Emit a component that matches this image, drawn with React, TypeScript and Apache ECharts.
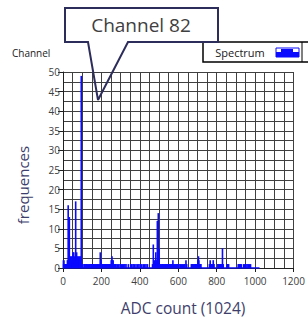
import React, { useEffect, useRef } from "react";
import * as echarts from "echarts";

const X_MIN = 0;
const X_MAX = 1200;
const X_STEP = 200;
const Y_MIN = 0;
const Y_MAX = 50;
const Y_STEP = 5;
const CHANNEL_COUNT = 1024;

// non-empty channels of the spectrum and their counts
const channels = [
  0, 1, 3, 5, 7, 9, 11, 13, 15, 17, 19, 21, 23, 25, 27, 28, 30, 32, 33, 34, 36, 38, 40, 42, 44, 46, 48, 50,
  52, 54, 56, 58, 60, 62, 64, 66, 67, 69, 71, 73, 75, 77, 79, 81, 83, 85, 87, 89, 91, 93, 95, 96, 98, 100, 103,
  110, 114, 119, 124, 128, 133, 137, 141, 146, 150, 153, 157, 161, 165, 170, 174, 178, 182, 186, 190,
  194, 196, 198, 200, 203, 206, 209, 212, 215, 218, 221, 224, 227, 230, 233, 236, 239, 242, 245, 248, 251,
  253, 255, 258, 261, 264, 267, 270, 273, 276,
  283, 290, 297, 304, 310, 316, 322, 328, 340, 352, 358, 365, 372, 380, 388, 395, 402, 410, 418, 425, 432, 440,
  466, 470, 473, 476, 479, 483, 486, 488, 491, 494, 496, 498, 500, 503, 506,
  512, 516, 520, 524, 528, 532, 536, 540, 544, 548, 552, 556, 560, 564, 568, 572, 576, 580,
  586, 590, 594, 598, 604, 610, 616, 622, 628, 634, 640, 644,
  668, 672, 676, 680, 684, 688, 692, 696, 700, 703, 705, 707, 710, 714, 718,
  762, 766, 770, 774, 778, 782, 786,
  806, 810, 814, 818, 822, 826, 830, 834,
  854, 858, 862,
  912, 916, 920, 924, 928,
  940, 946, 952, 958, 964, 970, 976,
];
const counts = [
  2, 2, 1, 2, 1, 1, 1, 1, 1, 1, 1, 1, 2, 1, 16, 2, 1, 2, 13, 3, 2, 1, 3, 1, 2, 3, 2, 1,
  4, 2, 4, 2, 3, 2, 1, 17, 3, 2, 4, 2, 3, 2, 2, 3, 2, 2, 3, 2, 2, 3, 49, 2, 1, 1, 1,
  1, 1, 1, 1, 1, 1, 1, 1, 1, 1, 1, 1, 1, 1, 1, 1, 1, 1, 1, 1,
  4, 2, 2, 1, 1, 1, 1, 1, 1, 1, 1, 1, 1, 1, 1, 1, 1, 1, 1, 1, 2,
  1, 3, 2, 2, 1, 1, 1, 1, 1,
  1, 1, 1, 1, 1, 1, 1, 1, 1, 1, 1, 1, 1, 1, 1, 1, 1, 1, 1, 1, 1, 1,
  1, 6, 1, 2, 1, 4, 2, 1, 12, 2, 14, 3, 5, 1, 1,
  1, 1, 1, 1, 1, 1, 1, 1, 1, 1, 1, 1, 1, 1, 1, 2, 1, 1,
  1, 1, 1, 1, 1, 1, 1, 1, 1, 1, 2, 1,
  1, 1, 1, 1, 1, 1, 1, 1, 1, 2, 3, 2, 1, 1, 1,
  1, 2, 1, 1, 1, 2, 1,
  1, 1, 1, 1, 1, 1, 5, 1,
  1, 1, 1,
  1, 1, 1, 1, 1,
  1, 1, 1, 1, 1, 1, 1,
];

const seriesName = "Spectrum";
const calloutText = "Channel 82";
const xTitle = "ADC count (1024)";
const yTitle = "frequences";
const cornerLabel = "Channel";

export default function App() {
  const ref = useRef<HTMLDivElement>(null);
  useEffect(() => {
    if (!ref.current) return;
    const chart = echarts.init(ref.current, null, { renderer: "svg" });
    const font = "'Open Sans', 'DejaVu Sans', sans-serif";
    const gridColor = "#404040";
    const titleColor = "#3e3e6c";
    const blue = "#0a0aff";
    const barData = channels.map((c, i) => [c, counts[i]]);
    chart.setOption({
      animation: false,
      backgroundColor: "#ffffff",
      grid: { left: 63, top: 72, width: 235, height: 196, show: false },
      xAxis: {
        type: "value",
        min: X_MIN,
        max: X_MAX,
        interval: X_STEP,
        axisLine: { show: true, onZero: false, lineStyle: { color: "#202020", width: 1 } },
        axisTick: { show: true, length: 4, lineStyle: { color: "#202020" } },
        axisLabel: { fontSize: 10, color: "#404040", margin: 8, fontFamily: font, formatter: (v: number) => String(v) },
        splitLine: { show: true, lineStyle: { color: gridColor, width: 1 } },
        minorTick: { show: false, splitNumber: 4 },
        minorSplitLine: { show: true, lineStyle: { color: gridColor, width: 1 } },
      },
      yAxis: {
        type: "value",
        min: Y_MIN,
        max: Y_MAX,
        interval: Y_STEP,
        axisLine: { show: true, lineStyle: { color: "#202020", width: 1 } },
        axisTick: { show: true, length: 5, lineStyle: { color: "#202020" } },
        axisLabel: { fontSize: 10, color: "#404040", margin: 3, fontFamily: font, formatter: (v: number) => String(v) },
        splitLine: { show: true, lineStyle: { color: gridColor, width: 1 } },
        minorTick: { show: false, splitNumber: 2 },
        minorSplitLine: { show: true, lineStyle: { color: gridColor, width: 1 } },
      },
      series: [
        {
          name: seriesName,
          type: "bar",
          data: barData,
          barWidth: 1.6,
          itemStyle: { color: blue },
          z: 3,
        },
        {
          type: "line",
          data: [[0, 0], [CHANNEL_COUNT - 1, 0]],
          showSymbol: false,
          lineStyle: { color: blue, width: 1.5 },
          z: 4,
        },
      ],
      graphic: [
        {
          type: "text",
          x: 12,
          y: 53,
          style: { text: cornerLabel, fontSize: 10, fontFamily: font, fill: "#202020", verticalAlign: "middle" },
        },
        {
          type: "rect",
          shape: { x: 65, y: 8, width: 153, height: 34 },
          style: { fill: "#ffffff" },
          z: 10,
        },
        {
          type: "polyline",
          shape: { points: [[98, 100], [88, 42], [65, 42], [65, 8], [218, 8], [218, 42], [128, 42], [98, 100]] },
          style: { stroke: "#2d2d5c", lineWidth: 2, fill: null },
          z: 11,
        },
        {
          type: "text",
          x: 141,
          y: 25,
          style: { text: calloutText, fontSize: 19, fontFamily: font, fill: "#404040", align: "center", verticalAlign: "middle" },
          z: 12,
        },
        {
          type: "rect",
          shape: { x: 203, y: 42, width: 110, height: 20 },
          style: { fill: "#ffffff", stroke: "#000000", lineWidth: 1.5 },
          z: 10,
        },
        {
          type: "line",
          shape: { x1: 302, y1: 42, x2: 302, y2: 62 },
          style: { stroke: "#000000", lineWidth: 1 },
          z: 11,
        },
        {
          type: "text",
          x: 240,
          y: 52,
          style: { text: seriesName, fontSize: 11, fontFamily: font, fill: "#202020", align: "center", verticalAlign: "middle" },
          z: 12,
        },
        {
          type: "rect",
          shape: { x: 276, y: 48, width: 23, height: 9 },
          style: { fill: "#ffffff", stroke: blue, lineWidth: 1 },
          z: 12,
        },
        {
          type: "polygon",
          shape: { points: [[276, 57], [276, 52], [281, 52], [281, 49], [293, 49], [293, 52], [299, 52], [299, 57]] },
          style: { fill: blue },
          z: 13,
        },
        {
          type: "text",
          x: 23,
          y: 185,
          rotation: Math.PI / 2,
          style: { text: yTitle, fontSize: 15, fontFamily: font, fill: titleColor, align: "center", verticalAlign: "middle" },
        },
        {
          type: "text",
          x: 183,
          y: 308,
          style: { text: xTitle, fontSize: 15.5, fontFamily: font, fill: titleColor, align: "center", verticalAlign: "middle" },
        },
      ],
    });
    return () => chart.dispose();
  }, []);
  return <div ref={ref} style={{ position: "absolute", left: 0, top: 0, width: 308, height: 318 }} />;
}
